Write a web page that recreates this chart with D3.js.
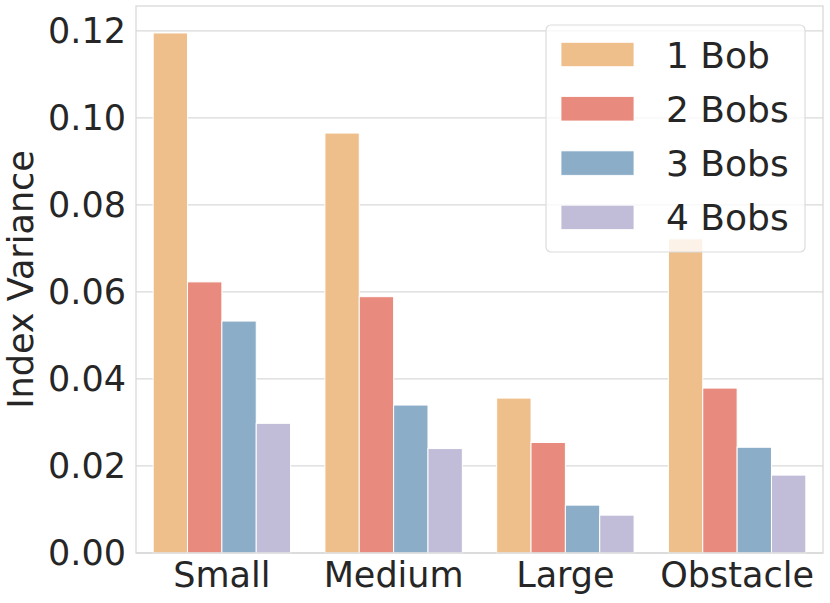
<!DOCTYPE html>
<html>
<head>
<meta charset="utf-8">
<script src="https://cdn.jsdelivr.net/npm/d3@7"></script>
<style>
  html, body { margin: 0; padding: 0; background: #fff; }
  svg { display: block; font-family: "DejaVu Sans", sans-serif; }
</style>
</head>
<body>
<svg id="chart" width="830" height="603"></svg>
<script>
const categories = ["Small", "Medium", "Large", "Obstacle"];
const seriesNames = ["1 Bob", "2 Bobs", "3 Bobs", "4 Bobs"];
const bob1 = [0.1195, 0.0965, 0.0356, 0.0722];
const bob2 = [0.0623, 0.0589, 0.0254, 0.0379];
const bob3 = [0.0533, 0.0340, 0.0110, 0.0243];
const bob4 = [0.0298, 0.0240, 0.0087, 0.0179];
const colors = ["#EEBF8A", "#E88B7E", "#8BADC8", "#C1BDD8"];
const yTicks = [0.00, 0.02, 0.04, 0.06, 0.08, 0.10, 0.12];

const seriesValues = [bob1, bob2, bob3, bob4];
const rows = [];
seriesNames.forEach((s, si) => categories.forEach((c, ci) => rows.push({ cat: c, series: s, si, value: seriesValues[si][ci] })));

const W = 830, H = 603;
const m = { left: 136, right: 7, top: 6, bottom: 50 };
const svg = d3.select("#chart");
const textColor = "#262626";
const gridColor = "#d9d9d9";

const x = d3.scaleBand().domain(categories).range([m.left, W - m.right]).paddingInner(0).paddingOuter(0);
const xInner = d3.scaleBand().domain(seriesNames).range([0, x.bandwidth() * 0.8]);
const y = d3.scaleLinear().domain([0, 0.1257]).range([H - m.bottom, m.top]);

// grid
svg.append("g").selectAll("line").data(yTicks).join("line")
  .attr("x1", m.left).attr("x2", W - m.right)
  .attr("y1", d => y(d)).attr("y2", d => y(d))
  .attr("stroke", gridColor).attr("stroke-width", 1.3);

// bars
svg.append("g").selectAll("rect").data(rows).join("rect")
  .attr("x", d => x(d.cat) + x.bandwidth() * 0.1 + xInner(d.series))
  .attr("width", xInner.bandwidth())
  .attr("y", d => y(d.value))
  .attr("height", d => y(0) - y(d.value))
  .attr("fill", d => colors[d.si])
  .attr("stroke", "#fff").attr("stroke-width", 1);

// spines
svg.append("rect")
  .attr("x", m.left).attr("y", m.top)
  .attr("width", W - m.right - m.left).attr("height", H - m.bottom - m.top)
  .attr("fill", "none").attr("stroke", gridColor).attr("stroke-width", 1.3);

// y axis
const yAxis = d3.axisLeft(y).tickValues(yTicks).tickFormat(d3.format(".2f")).tickSize(0).tickPadding(10);
const gy = svg.append("g").attr("transform", `translate(${m.left},0)`).call(yAxis);
gy.select(".domain").remove();
gy.selectAll("text").attr("font-size", 35).attr("fill", textColor).attr("font-family", "DejaVu Sans");

// x axis
const xAxis = d3.axisBottom(x).tickSize(0).tickPadding(9);
const gx = svg.append("g").attr("transform", `translate(0,${H - m.bottom})`).call(xAxis);
gx.select(".domain").remove();
gx.selectAll("text").attr("font-size", 35).attr("fill", textColor).attr("font-family", "DejaVu Sans");

// y label
svg.append("text")
  .attr("transform", `translate(33,${(m.top + H - m.bottom) / 2}) rotate(-90)`)
  .attr("text-anchor", "middle")
  .attr("font-size", 35).attr("fill", textColor)
  .text("Index Variance");

// legend
const lg = svg.append("g");
lg.append("rect")
  .attr("x", 546).attr("y", 25).attr("width", 259).attr("height", 227)
  .attr("rx", 5).attr("ry", 5)
  .attr("fill", "#fff").attr("fill-opacity", 0.8)
  .attr("stroke", "#dcdcdc").attr("stroke-width", 1.2);
const items = lg.selectAll("g.item").data(seriesNames).join("g")
  .attr("class", "item")
  .attr("transform", (d, i) => `translate(561,${54.5 + i * 54.3})`);
items.append("rect").attr("x", 0).attr("y", -12.2).attr("width", 73).attr("height", 24.4)
  .attr("fill", (d, i) => colors[i]).attr("stroke", "#fff").attr("stroke-width", 0.8);
items.append("text").attr("x", 105).attr("y", 13)
  .attr("font-size", 36).attr("fill", textColor)
  .text(d => d);
</script>
</body>
</html>
